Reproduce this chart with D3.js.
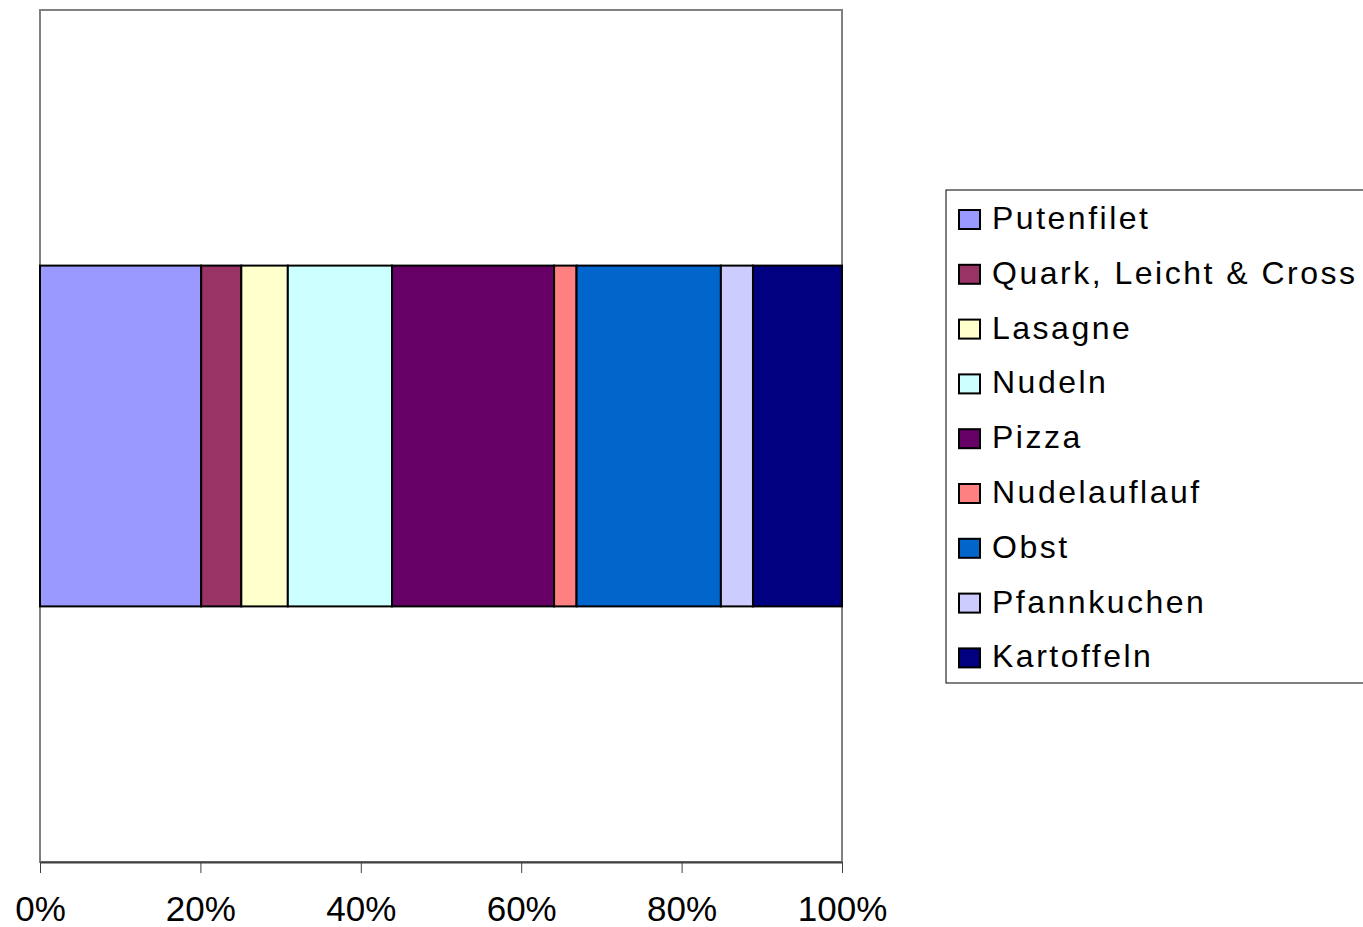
<!DOCTYPE html>
<html>
<head>
<meta charset="utf-8">
<script src="https://cdn.jsdelivr.net/npm/d3@7"></script>
<style>
  body { margin: 0; background: #fff; }
  svg { display: block; }
</style>
</head>
<body>
<div id="chart"></div>
<script>
// Canvas size
const width = 1363;
const height = 927;
const margin = {left: 40, right: 521, top: 10, bottom: 65};

// Chart data (percent shares)
const categories = ["Gesamt"];
const foods = ["Putenfilet", "Quark, Leicht & Cross", "Lasagne", "Nudeln", "Pizza",
               "Nudelauflauf", "Obst", "Pfannkuchen", "Kartoffeln"];
const shares = [20.1, 5.0, 5.8, 13.0, 20.2, 2.8, 18.0, 4.0, 11.1];
const colors = ["#9999FF", "#993366", "#FFFFCC", "#CCFFFF", "#660066",
                "#FF8080", "#0066CC", "#CCCCFF", "#000080"];
const xTicks = [0, 0.2, 0.4, 0.6, 0.8, 1];

const svg = d3.select("#chart")
  .append("svg")
  .attr("width", width)
  .attr("height", height);

const total = d3.sum(shares);

// Build a stack table (one row, one column per food)
const row = {cat: categories[0]};
foods.forEach((f, i) => row[f] = shares[i] / total);
const stacked = d3.stack().keys(foods)([row]);

// Scales
const xScale = d3.scaleLinear()
  .domain([0, 1])
  .range([margin.left, width - margin.right]);

const yScale = d3.scaleBand()
  .domain(categories)
  .range([margin.top, height - margin.bottom])
  .paddingInner(0)
  .paddingOuter(0.75);

const colorScale = d3.scaleOrdinal().domain(foods).range(colors);

// Plot area border
svg.append("rect")
  .attr("x", xScale(0))
  .attr("y", margin.top)
  .attr("width", xScale(1) - xScale(0))
  .attr("height", height - margin.bottom - margin.top)
  .attr("fill", "none")
  .attr("stroke", "#808080")
  .attr("stroke-width", 2);

// Bars
svg.selectAll(".seg")
  .data(stacked)
  .enter()
  .append("rect")
    .attr("class", "seg")
    .attr("x", d => xScale(d[0][0]))
    .attr("y", d => yScale(d[0].data.cat))
    .attr("width", d => xScale(d[0][1]) - xScale(d[0][0]))
    .attr("height", yScale.bandwidth())
    .attr("fill", d => colorScale(d.key))
    .attr("stroke", "#000")
    .attr("stroke-width", 2);

// X axis
const xAxis = svg.append("g")
  .attr("transform", `translate(0,${height - margin.bottom})`)
  .call(d3.axisBottom(xScale)
          .tickValues(xTicks)
          .tickFormat(d3.format(".0%"))
          .tickSize(11)
          .tickSizeOuter(0)
          .tickPadding(23));

xAxis.select(".domain").attr("stroke", "#404040").attr("stroke-width", 2);
xAxis.selectAll(".tick line").attr("stroke", "#404040").attr("stroke-width", 1);
xAxis.selectAll("text")
  .attr("fill", "#000")
  .attr("font-family", "'Liberation Sans', Arial, sans-serif")
  .attr("font-size", "35px");

// Legend
const legendX = 946, legendY = 190, rowH = 54.8;

svg.append("rect")
  .attr("x", legendX)
  .attr("y", legendY)
  .attr("width", width - legendX + 5)
  .attr("height", 493)
  .attr("fill", "#fff")
  .attr("stroke", "#000")
  .attr("stroke-width", 1);

const items = svg.selectAll(".legend")
  .data(foods)
  .enter()
  .append("g")
    .attr("class", "legend")
    .attr("transform", (d, i) => `translate(${legendX}, ${legendY + 28 + i * rowH})`);

items.append("rect")
  .attr("x", 13)
  .attr("y", -8)
  .attr("width", 21)
  .attr("height", 19)
  .attr("fill", d => colorScale(d))
  .attr("stroke", "#000")
  .attr("stroke-width", 2);

items.append("text")
  .attr("x", 46)
  .attr("y", 11)
  .attr("font-family", "'Liberation Sans', Arial, sans-serif")
  .attr("font-size", "32px")
  .attr("letter-spacing", "2.5px")
  .attr("fill", "#000")
  .text(d => d);
</script>
</body>
</html>
